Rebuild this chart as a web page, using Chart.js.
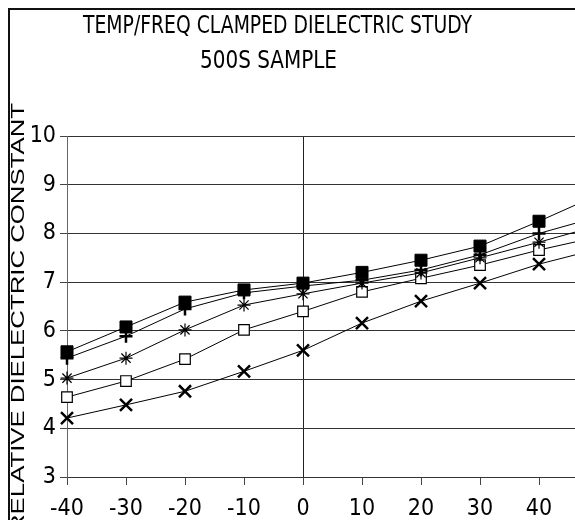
<!DOCTYPE html>
<html>
<head>
<meta charset="utf-8">
<script src="https://cdn.jsdelivr.net/npm/chart.js@4.4.1/dist/chart.umd.min.js"></script>
<style>
  html, body { margin: 0; padding: 0; background: #fff; }
  #wrap { width: 575px; height: 520px; position: relative; }
</style>
</head>
<body>
<div id="wrap"><canvas id="chart"></canvas></div>
<script>
// temperature (deg C) and relative dielectric constant per frequency
const temps = [-40, -30, -20, -10, 0, 10, 20, 30, 40, 50];
const filledSquare = [5.57, 6.08, 6.59, 6.84, 6.98, 7.20, 7.45, 7.74, 8.25, 8.79];
const plusSeries = [5.44, 5.89, 6.45, 6.78, 6.92, 7.04, 7.25, 7.56, 8.00, 8.34];
const starSeries = [5.03, 5.44, 6.02, 6.53, 6.76, 6.98, 7.19, 7.50, 7.82, 8.16];
const openSquare = [4.64, 4.97, 5.42, 6.02, 6.40, 6.80, 7.08, 7.35, 7.66, 7.93];
const crossSeries = [4.21, 4.48, 4.76, 5.17, 5.60, 6.16, 6.61, 6.98, 7.37, 7.68];

const xTicks = [-40, -30, -20, -10, 0, 10, 20, 30, 40];

const titleLines = ["TEMP/FREQ CLAMPED DIELECTRIC STUDY", "500S SAMPLE"];
const yTitle = "RELATIVE DIELECTRIC CONSTANT";

const narrow = "'Liberation Sans Narrow', 'DejaVu Sans Condensed', 'Liberation Sans', sans-serif";

const toPoints = (vals) => temps.map((t, i) => ({ x: t, y: vals[i] }));

const makeSet = (vals, style, radius, width, fill) => ({
    data: toPoints(vals),
    borderColor: "#000",
    borderWidth: 1,
    pointStyle: style,
    pointRadius: temps.map((t) => (t > 40 ? 0 : radius)),
    pointBorderWidth: width,
    pointBackgroundColor: fill,
    pointBorderColor: "#000",
    tension: 0,
    fill: false,
    clip: false,
});

const datasets = [
    makeSet(filledSquare, "rect", 8.5, 1, "#000"),
    makeSet(plusSeries, "cross", 6.5, 2.5, "#000"),
    makeSet(starSeries, "star", 6.5, 1.2, "#000"),
    makeSet(openSquare, "rect", 7.5, 1.2, "#fff"),
    makeSet(crossSeries, "crossRot", 8.5, 2.5, "#000"),
];

// frame, title and y axis title drawn by hand
const decor = {
    id: "decor",
    afterDraw(chart) {
        const ctx = chart.ctx;
        ctx.save();
        ctx.strokeStyle = "#111";
        ctx.lineWidth = 2;
        ctx.beginPath();
        ctx.moveTo(9, 520);
        ctx.lineTo(9, 9);
        ctx.lineTo(575, 9);
        ctx.stroke();

        ctx.fillStyle = "#000";
        ctx.textAlign = "center";
        ctx.textBaseline = "alphabetic";
        ctx.font = "25px " + narrow;
        const spots = [
            { cx: 277.5, base: 33, w: 389 },
            { cx: 268.5, base: 68, w: 137 },
        ];
        titleLines.forEach((txt, i) => {
            const s = spots[i];
            const m = ctx.measureText(txt).width;
            ctx.save();
            ctx.translate(s.cx, s.base);
            ctx.scale(s.w / m, 1);
            ctx.fillText(txt, 0, 0);
            ctx.restore();
        });

        ctx.font = "18px 'Liberation Sans', sans-serif";
        const m = ctx.measureText(yTitle).width;
        ctx.save();
        ctx.translate(24, 103);
        ctx.rotate(-Math.PI / 2);
        ctx.scale(430 / m, 1);
        ctx.textAlign = "right";
        ctx.fillText(yTitle, 0, 0);
        ctx.restore();
        ctx.restore();
    },
};

const chart = new Chart(document.getElementById("chart"), {
    type: "line",
    data: { datasets: datasets },
    options: {
        responsive: true,
        maintainAspectRatio: false,
        animation: false,
        layout: { autoPadding: false, padding: { top: 136, left: 0, right: 0, bottom: 0 } },
        plugins: { legend: { display: false }, tooltip: { enabled: false } },
        scales: {
            x: {
                type: "linear",
                min: -40,
                max: 46.1,
                afterBuildTicks: (scale) => {
                    scale.ticks = xTicks.map((v) => ({ value: v }));
                },
                afterFit: (scale) => {
                    scale.height = 43;
                    scale.paddingLeft = 0;
                    scale.paddingRight = 0;
                },
                ticks: {
                    autoSkip: false,
                    color: "#000",
                    padding: 10,
                    maxRotation: 0,
                    font: { family: narrow, size: 23 },
                },
                grid: {
                    color: (c) => (c.tick && c.tick.value === 0 ? "#222" : "rgba(0,0,0,0)"),
                    tickColor: "#444",
                    tickLength: 8,
                    lineWidth: 1,
                },
                border: { color: "#333", width: 1 },
            },
            y: {
                min: 3,
                max: 10,
                afterFit: (scale) => {
                    scale.width = 67;
                },
                ticks: {
                    stepSize: 1,
                    color: "#000",
                    padding: 4,
                    font: { family: narrow, size: 23 },
                },
                grid: {
                    color: "#333",
                    tickColor: "#444",
                    tickLength: 7,
                    lineWidth: 1,
                },
                border: { color: "#666", width: 1 },
            },
        },
    },
    plugins: [decor],
});
</script>
</body>
</html>
